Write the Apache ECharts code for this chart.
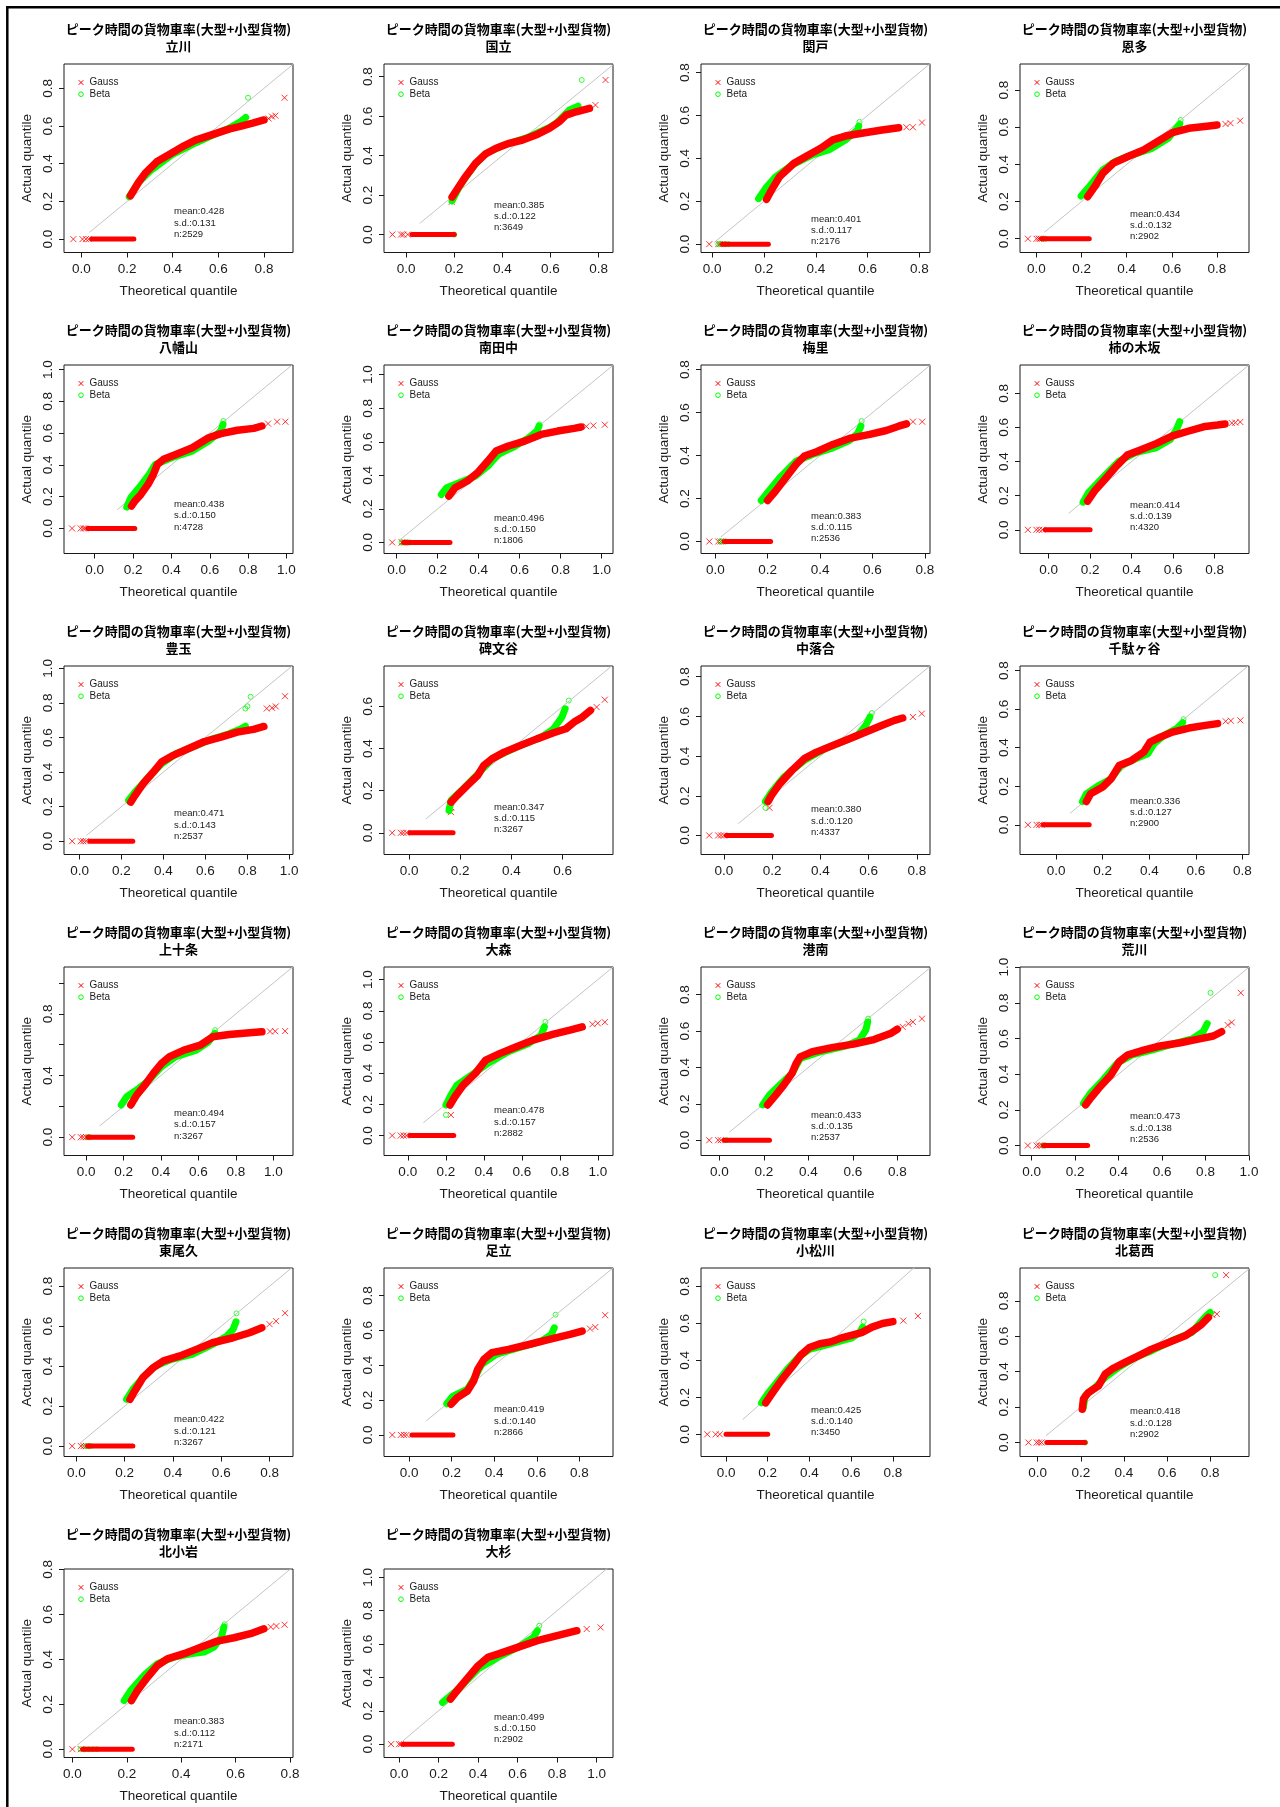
<!DOCTYPE html>
<html>
<head>
<meta charset="utf-8">
<script src="https://cdn.jsdelivr.net/npm/echarts@6.0.0/dist/echarts.min.js"></script>
<style>
  html, body { margin: 0; padding: 0; background: #fff; }
  #main { width: 1280px; height: 1807px; }
</style>
</head>
<body>
<div id="main"></div>
<script>
// 駅名と統計値
var stations = ['立川','国立','関戸','恩多','八幡山','南田中','梅里','柿の木坂','豊玉','碑文谷','中落合','千駄ヶ谷',
  '上十条','大森','港南','荒川','東尾久','足立','小松川','北葛西','北小岩','大杉'];
var means = [0.428,0.385,0.401,0.434,0.438,0.496,0.383,0.414,0.471,0.347,0.380,0.336,0.494,0.478,0.433,0.473,0.422,0.419,0.425,0.418,0.383,0.499];
var sds = [0.131,0.122,0.117,0.132,0.150,0.150,0.115,0.139,0.143,0.115,0.120,0.127,0.157,0.157,0.135,0.138,0.121,0.140,0.140,0.128,0.112,0.150];
var counts = [2529,3649,2176,2902,4728,1806,2536,4320,2537,3267,4337,2900,3267,2882,2537,2536,3267,2866,3450,2902,2171,2902];

// 目盛り
var ticks06 = [0, 0.2, 0.4, 0.6];
var ticks08 = [0, 0.2, 0.4, 0.6, 0.8];
var ticks10 = [0, 0.2, 0.4, 0.6, 0.8, 1.0];
var ticksSparse = [0, 0.4, 0.8];
var xTickLists = [ticks08,ticks08,ticks08,ticks08,ticks10,ticks10,ticks08,ticks08,ticks10,ticks06,ticks08,ticks08,
  ticks10,ticks10,ticks08,ticks10,ticks08,ticks08,ticks08,ticks08,ticks08,ticks10];
var yTickLists = [ticks08,ticks08,ticks08,ticks08,ticks10,ticks10,ticks08,ticks08,ticks10,ticks06,ticks08,ticks08,
  ticks10,ticks10,ticks08,ticks10,ticks08,ticks08,ticks08,ticks08,ticks08,ticks10];
var yLabelLists = [ticks08,ticks08,ticks08,ticks08,ticks10,ticks10,ticks08,ticks08,ticks10,ticks06,ticks08,ticks08,
  ticksSparse,ticks10,ticks08,ticks10,ticks08,ticks08,ticks08,ticks08,ticks08,ticks10];

// 軸範囲
var xLimits = [[-0.076,0.927],[-0.092,0.86],[-0.043,0.841],[-0.073,0.942],[-0.16,1.034],[-0.062,1.056],
  [-0.055,0.82],[-0.138,0.966],[-0.074,1.018],[-0.098,0.797],[-0.095,0.854],[-0.155,0.828],
  [-0.118,1.105],[-0.125,1.08],[-0.083,0.947],[-0.053,1.0],[-0.051,0.897],[-0.118,0.958],
  [-0.12,0.978],[-0.082,0.98],[-0.031,0.811],[-0.076,1.083]];
var yLimits = [[-0.071,0.929],[-0.091,0.864],[-0.039,0.84],[-0.074,0.94],[-0.158,1.029],[-0.066,1.058],
  [-0.056,0.822],[-0.139,0.966],[-0.077,1.014],[-0.103,0.792],[-0.096,0.854],[-0.154,0.824],
  [-0.119,1.104],[-0.128,1.081],[-0.084,0.952],[-0.056,1.001],[-0.052,0.891],[-0.124,0.958],
  [-0.12,0.9],[-0.079,0.985],[-0.037,0.802],[-0.08,1.05]];

// 対角線の始点
var diagStarts = [0.035,0.056,0.008,0.035,0.117,0.015,0.02,0.097,0.034,0.066,0.06,0.06,
  0.072,0.082,0.044,0.015,0.015,0.08,0.08,0.038,0.016,0.02];

// 0 に張り付いた区間
var zeroBands = [[0.045,0.23],[0.024,0.2],[0.04,0.217],[0.022,0.234],[-0.036,0.209],[0.034,0.26],
  [0.034,0.211],[-0.016,0.2],[0.049,0.254],[0.003,0.172],[0.01,0.197],[-0.055,0.142],
  [0.009,0.249],[0.011,0.242],[0.022,0.225],[0.055,0.258],[0.047,0.234],[0.013,0.206],
  [0.0,0.2],[0.042,0.22],[0.037,0.22],[0.02,0.27]];

// Gauss (赤 x) の密な帯
var gaussBands = [
  [[0.215,0.23],[0.25,0.3],[0.28,0.35],[0.33,0.41],[0.4,0.46],[0.45,0.495],[0.5,0.525],[0.55,0.545],[0.6,0.565],[0.65,0.585],[0.7,0.6],[0.75,0.615],[0.8,0.632]],
  [[0.191,0.19],[0.219,0.242],[0.247,0.293],[0.288,0.36],[0.33,0.408],[0.372,0.436],[0.428,0.462],[0.484,0.479],[0.539,0.504],[0.595,0.538],[0.637,0.572],[0.665,0.605],[0.707,0.622],[0.762,0.639]],
  [[0.21,0.209],[0.229,0.252],[0.26,0.314],[0.316,0.377],[0.372,0.416],[0.419,0.447],[0.466,0.486],[0.514,0.504],[0.577,0.517],[0.656,0.532],[0.72,0.543]],
  [[0.227,0.226],[0.258,0.28],[0.294,0.352],[0.339,0.405],[0.403,0.441],[0.475,0.477],[0.548,0.531],[0.602,0.571],[0.675,0.594],[0.765,0.607],[0.8,0.612]],
  [[0.192,0.141],[0.209,0.172],[0.241,0.214],[0.278,0.277],[0.306,0.34],[0.327,0.403],[0.359,0.435],[0.423,0.466],[0.509,0.508],[0.594,0.571],[0.658,0.597],[0.744,0.618],[0.829,0.63],[0.872,0.645]],
  [[0.255,0.276],[0.285,0.326],[0.345,0.366],[0.395,0.416],[0.445,0.485],[0.485,0.545],[0.545,0.575],[0.625,0.604],[0.705,0.644],[0.786,0.664],[0.866,0.68],[0.9,0.688]],
  [[0.199,0.191],[0.23,0.235],[0.269,0.297],[0.308,0.359],[0.34,0.398],[0.387,0.418],[0.449,0.452],[0.512,0.48],[0.59,0.499],[0.653,0.517],[0.7,0.537],[0.73,0.548]],
  [[0.188,0.168],[0.221,0.227],[0.271,0.295],[0.32,0.364],[0.379,0.438],[0.439,0.466],[0.518,0.505],[0.597,0.55],[0.676,0.579],[0.755,0.606],[0.814,0.614],[0.85,0.62]],
  [[0.244,0.226],[0.264,0.264],[0.303,0.332],[0.352,0.4],[0.391,0.458],[0.439,0.492],[0.518,0.535],[0.596,0.577],[0.674,0.602],[0.752,0.631],[0.83,0.647],[0.879,0.664]],
  [[0.164,0.146],[0.188,0.177],[0.228,0.225],[0.268,0.272],[0.292,0.32],[0.324,0.351],[0.372,0.383],[0.436,0.415],[0.5,0.446],[0.565,0.475],[0.613,0.494],[0.645,0.526],[0.677,0.549],[0.709,0.581]],
  [[0.183,0.171],[0.197,0.202],[0.231,0.26],[0.282,0.328],[0.333,0.387],[0.384,0.42],[0.452,0.454],[0.52,0.487],[0.588,0.521],[0.656,0.555],[0.707,0.58],[0.741,0.592]],
  [[0.13,0.121],[0.148,0.161],[0.2,0.196],[0.236,0.239],[0.271,0.308],[0.324,0.334],[0.376,0.377],[0.403,0.429],[0.447,0.455],[0.499,0.481],[0.57,0.502],[0.64,0.516],[0.693,0.525]],
  [[0.239,0.209],[0.271,0.274],[0.315,0.339],[0.359,0.414],[0.403,0.479],[0.446,0.522],[0.523,0.565],[0.61,0.597],[0.676,0.651],[0.764,0.666],[0.873,0.677],[0.939,0.684]],
  [[0.222,0.196],[0.248,0.249],[0.292,0.324],[0.356,0.399],[0.41,0.484],[0.486,0.527],[0.572,0.57],[0.659,0.612],[0.767,0.651],[0.853,0.676],[0.918,0.697]],
  [[0.216,0.194],[0.253,0.248],[0.289,0.303],[0.326,0.367],[0.345,0.422],[0.363,0.458],[0.418,0.486],[0.511,0.51],[0.603,0.528],[0.695,0.553],[0.769,0.586],[0.8,0.61]],
  [[0.249,0.228],[0.271,0.265],[0.309,0.321],[0.365,0.395],[0.403,0.47],[0.441,0.507],[0.516,0.535],[0.591,0.558],[0.685,0.576],[0.761,0.595],[0.836,0.614],[0.874,0.638]],
  [[0.222,0.234],[0.242,0.276],[0.276,0.343],[0.319,0.393],[0.361,0.426],[0.429,0.451],[0.497,0.484],[0.564,0.517],[0.649,0.542],[0.717,0.567],[0.768,0.592]],
  [[0.197,0.176],[0.226,0.214],[0.274,0.252],[0.303,0.309],[0.322,0.376],[0.351,0.433],[0.389,0.472],[0.467,0.491],[0.563,0.519],[0.659,0.548],[0.756,0.577],[0.813,0.596]],
  [[0.19,0.17],[0.22,0.22],[0.27,0.3],[0.32,0.37],[0.36,0.43],[0.4,0.47],[0.45,0.49],[0.5,0.5],[0.55,0.52],[0.6,0.535],[0.65,0.55],[0.7,0.58],[0.75,0.6],[0.8,0.61]],
  [[0.207,0.188],[0.212,0.245],[0.235,0.282],[0.282,0.32],[0.313,0.386],[0.344,0.414],[0.405,0.452],[0.467,0.489],[0.529,0.527],[0.607,0.565],[0.684,0.602],[0.73,0.64],[0.761,0.668],[0.792,0.706]],
  [[0.217,0.216],[0.239,0.261],[0.276,0.32],[0.312,0.372],[0.349,0.402],[0.41,0.425],[0.472,0.454],[0.533,0.481],[0.594,0.496],[0.655,0.514],[0.704,0.536]],
  [[0.26,0.27],[0.3,0.33],[0.35,0.4],[0.4,0.47],[0.45,0.52],[0.5,0.54],[0.6,0.58],[0.7,0.62],[0.8,0.65],[0.9,0.68]]
];
// Gauss の散らばった点
var gaussMarks = [
  [[-0.035,0],[0.005,0],[0.02,0],[0.032,0],[0.82,0.64],[0.835,0.65],[0.85,0.655],[0.89,0.75]],
  [[-0.057,0],[-0.021,0],[-0.012,0],[0.007,0],[0.19,0.166],[0.787,0.656],[0.829,0.783]],
  [[-0.011,0],[0.024,0],[0.03,0],[0.04,0],[0.75,0.545],[0.775,0.545],[0.81,0.567]],
  [[-0.038,0],[0,0],[0.01,0],[0.018,0],[0.838,0.617],[0.86,0.622],[0.903,0.635]],
  [[-0.118,0],[-0.073,0],[-0.06,0],[-0.05,0],[0.904,0.66],[0.951,0.672],[0.994,0.672]],
  [[-0.022,0],[0.024,0],[0.03,0],[0.04,0],[0.926,0.692],[0.96,0.697],[1.016,0.702]],
  [[-0.023,0],[0.011,0],[0.02,0],[0.028,0],[0.755,0.558],[0.79,0.558]],
  [[-0.1,0],[-0.059,0],[-0.045,0],[-0.03,0],[0.883,0.626],[0.9,0.628],[0.924,0.632]],
  [[-0.035,0],[0.006,0],[0.018,0],[0.03,0],[0.893,0.768],[0.918,0.772],[0.936,0.78],[0.98,0.839]],
  [[-0.066,0],[-0.032,0],[-0.022,0],[-0.01,0],[0.164,0.098],[0.164,0.12],[0.733,0.597],[0.765,0.632]],
  [[-0.061,0],[-0.024,0],[-0.012,0],[0,0],[0.189,0.139],[0.783,0.597],[0.82,0.614]],
  [[-0.121,0],[-0.084,0],[-0.072,0],[-0.062,0],[0.728,0.537],[0.75,0.54],[0.791,0.542]],
  [[-0.074,0],[-0.028,0],[-0.015,0],[0,0],[0.982,0.686],[1.01,0.687],[1.063,0.688]],
  [[-0.082,0],[-0.037,0],[-0.022,0],[-0.008,0],[0.227,0.132],[0.972,0.714],[1.0,0.72],[1.037,0.727]],
  [[-0.046,0],[-0.006,0],[0.006,0],[0.824,0.623],[0.85,0.64],[0.87,0.65],[0.911,0.668]],
  [[-0.017,0],[0.023,0],[0.035,0],[0.048,0],[0.902,0.675],[0.921,0.69],[0.962,0.856]],
  [[-0.017,0],[0.019,0],[0.03,0],[0.04,0],[0.8,0.61],[0.827,0.625],[0.864,0.665]],
  [[-0.079,0],[-0.039,0],[-0.025,0],[-0.012,0],[0.85,0.61],[0.875,0.619],[0.921,0.687]],
  [[-0.09,0],[-0.05,0],[-0.03,0],[0.85,0.615],[0.92,0.64]],
  [[-0.043,0],[-0.005,0],[0.006,0],[0.018,0],[0.81,0.72],[0.831,0.725],[0.874,0.945]],
  [[0,0],[0.031,0],[0.729,0.544],[0.75,0.548],[0.78,0.554]],
  [[-0.04,0],[0,0],[0.01,0],[0.95,0.69],[1.02,0.7]]
];
// Beta (緑 o) の密な帯
var betaBands = [
  [[0.21,0.225],[0.25,0.3],[0.3,0.36],[0.4,0.45],[0.5,0.51],[0.6,0.565],[0.65,0.59],[0.7,0.625],[0.72,0.645]],
  [[0.191,0.17],[0.22,0.24],[0.25,0.295],[0.29,0.36],[0.33,0.41],[0.4,0.45],[0.5,0.49],[0.6,0.545],[0.623,0.563],[0.679,0.631],[0.715,0.65]],
  [[0.179,0.212],[0.206,0.26],[0.245,0.314],[0.308,0.369],[0.387,0.416],[0.45,0.439],[0.514,0.486],[0.561,0.532],[0.566,0.55]],
  [[0.198,0.23],[0.24,0.289],[0.294,0.37],[0.348,0.415],[0.421,0.45],[0.512,0.486],[0.584,0.54],[0.62,0.594],[0.635,0.617]],
  [[0.167,0.134],[0.188,0.193],[0.231,0.256],[0.284,0.34],[0.316,0.403],[0.402,0.445],[0.509,0.487],[0.594,0.55],[0.658,0.613],[0.669,0.655]],
  [[0.218,0.286],[0.244,0.326],[0.305,0.356],[0.385,0.396],[0.445,0.455],[0.495,0.525],[0.565,0.565],[0.645,0.624],[0.685,0.664],[0.695,0.694]],
  [[0.175,0.191],[0.199,0.227],[0.246,0.297],[0.308,0.374],[0.371,0.405],[0.449,0.436],[0.512,0.47],[0.543,0.502],[0.556,0.537]],
  [[0.166,0.162],[0.192,0.217],[0.261,0.305],[0.34,0.403],[0.419,0.452],[0.518,0.481],[0.587,0.53],[0.617,0.589],[0.632,0.634]],
  [[0.234,0.236],[0.264,0.284],[0.322,0.361],[0.391,0.448],[0.459,0.506],[0.557,0.554],[0.635,0.593],[0.713,0.622],[0.771,0.651],[0.791,0.666]],
  [[0.156,0.106],[0.164,0.154],[0.212,0.209],[0.276,0.288],[0.324,0.351],[0.42,0.407],[0.517,0.454],[0.565,0.494],[0.597,0.549],[0.61,0.589]],
  [[0.172,0.171],[0.197,0.218],[0.248,0.294],[0.333,0.378],[0.418,0.437],[0.503,0.479],[0.554,0.504],[0.588,0.555],[0.605,0.597]],
  [[0.113,0.121],[0.13,0.161],[0.183,0.204],[0.236,0.239],[0.279,0.308],[0.341,0.343],[0.394,0.369],[0.42,0.421],[0.464,0.464],[0.517,0.499],[0.543,0.53]],
  [[0.188,0.209],[0.217,0.263],[0.282,0.317],[0.337,0.371],[0.403,0.457],[0.479,0.522],[0.589,0.565],[0.654,0.619],[0.687,0.673]],
  [[0.201,0.196],[0.227,0.26],[0.259,0.324],[0.335,0.388],[0.421,0.463],[0.529,0.537],[0.637,0.591],[0.702,0.644],[0.719,0.697]],
  [[0.194,0.194],[0.225,0.248],[0.271,0.303],[0.326,0.367],[0.363,0.449],[0.455,0.486],[0.566,0.517],[0.63,0.551],[0.658,0.605],[0.667,0.65]],
  [[0.239,0.237],[0.271,0.293],[0.328,0.367],[0.394,0.461],[0.46,0.507],[0.554,0.535],[0.648,0.569],[0.742,0.6],[0.789,0.638],[0.808,0.684]],
  [[0.208,0.234],[0.234,0.284],[0.276,0.343],[0.327,0.401],[0.395,0.434],[0.48,0.459],[0.564,0.509],[0.624,0.551],[0.649,0.584],[0.661,0.622]],
  [[0.177,0.179],[0.206,0.223],[0.274,0.262],[0.312,0.338],[0.341,0.405],[0.409,0.462],[0.524,0.504],[0.621,0.538],[0.669,0.577],[0.682,0.615]],
  [[0.17,0.17],[0.2,0.22],[0.25,0.29],[0.3,0.36],[0.35,0.42],[0.4,0.46],[0.5,0.49],[0.6,0.52],[0.64,0.55],[0.655,0.58]],
  [[0.212,0.198],[0.22,0.264],[0.266,0.311],[0.313,0.367],[0.375,0.424],[0.452,0.48],[0.529,0.518],[0.622,0.574],[0.715,0.621],[0.754,0.678],[0.785,0.719],[0.8,0.734]],
  [[0.19,0.216],[0.214,0.261],[0.263,0.328],[0.312,0.38],[0.374,0.41],[0.435,0.425],[0.484,0.432],[0.52,0.454],[0.548,0.499],[0.557,0.544]],
  [[0.22,0.25],[0.3,0.33],[0.4,0.45],[0.5,0.52],[0.6,0.58],[0.68,0.64],[0.7,0.68]]
];
// Beta の散らばった点
var betaMarks = [
  [[0.73,0.75]],
  [[0.2,0],[0.73,0.783]],
  [[0.024,0],[0.035,0],[0.05,0],[0.063,0],[0.569,0.57]],
  [[0.03,0],[0.04,0],[0.639,0.639]],
  [[0.671,0.676]],
  [[0.024,0],[0.035,0],[0.05,0],[0.065,0],[0.697,0.704]],
  [[0.02,0],[0.03,0],[0.559,0.561]],
  [],
  [[0.791,0.768],[0.801,0.781],[0.816,0.836]],
  [[0.624,0.628]],
  [[0.172,0.139],[0.613,0.617]],
  [[0.547,0.548]],
  [[0.01,0],[0.02,0],[0.689,0.694]],
  [[0.201,0.132],[0.724,0.729]],
  [[0.03,0],[0.669,0.668]],
  [[0.055,0],[0.062,0],[0.823,0.856]],
  [[0.04,0],[0.05,0],[0.06,0],[0.663,0.664]],
  [[0.688,0.69]],
  [[0.66,0.61]],
  [[0.22,0],[0.823,0.945]],
  [[0.03,0],[0.045,0],[0.06,0],[0.075,0],[0.09,0],[0.56,0.556]],
  [[0.71,0.71]]
];

// レイアウト
var colLeft = [64, 384, 701, 1020];
var rowTop = [64, 365, 666, 967, 1268, 1569];
var boxW = 229, boxH = 188.5;
var statTop = [147.7,141,155,150,139.3,153,151,140,147.7,141,143.7,135,146.3,143.7,148,149.7,151.7,141.7,142,143.7,152.7,148];

var mainTitle = 'ピーク時間の貨物車率(大型+小型貨物)';
var latin = '"Liberation Sans", Arial, sans-serif';
var cjk = '"Noto Sans CJK JP", sans-serif';
var ink = '#1a1a1a';
var crossPath = 'path://M0,0L10,10M10,0L0,10';

var grids = [], xAxes = [], yAxes = [], series = [], graphics = [];

// 外枠（上と左だけ見えている）
graphics.push({type: 'line', shape: {x1: 6, y1: 7.3, x2: 1280, y2: 7.3}, style: {stroke: '#000', lineWidth: 2.5}});
graphics.push({type: 'line', shape: {x1: 7.3, y1: 6, x2: 7.3, y2: 1807}, style: {stroke: '#000', lineWidth: 2.5}});

stations.forEach(function (name, i) {
  var left = colLeft[i % 4];
  var top = rowTop[Math.floor(i / 4)];
  grids.push({left: left, top: top, width: boxW, height: boxH, show: true,
    borderColor: ink, borderWidth: 1, backgroundColor: 'transparent'});
  xAxes.push({
    gridIndex: i, type: 'value', min: xLimits[i][0], max: xLimits[i][1], position: 'bottom',
    axisLine: {show: false, onZero: false}, splitLine: {show: false},
    axisTick: {show: true, customValues: xTickLists[i], length: 5, lineStyle: {color: ink}},
    axisLabel: {customValues: xTickLists[i], formatter: function (v) { return v.toFixed(1); },
      fontSize: 13.5, fontFamily: latin, color: ink, margin: 10},
    name: 'Theoretical quantile', nameLocation: 'middle', nameGap: 32,
    nameTextStyle: {fontSize: 13.5, fontFamily: latin, color: ink}
  });
  yAxes.push({
    gridIndex: i, type: 'value', min: yLimits[i][0], max: yLimits[i][1], position: 'left',
    axisLine: {show: false, onZero: false}, splitLine: {show: false},
    axisTick: {show: true, customValues: yTickLists[i], length: 5, lineStyle: {color: ink}},
    axisLabel: {customValues: yLabelLists[i], formatter: function (v) { return v.toFixed(1); },
      rotate: 90, fontSize: 13.5, fontFamily: latin, color: ink, margin: 9},
    name: 'Actual quantile', nameLocation: 'middle', nameGap: 30,
    nameTextStyle: {fontSize: 13.5, fontFamily: latin, color: ink}
  });

  var d = diagStarts[i];
  series.push({type: 'line', xAxisIndex: i, yAxisIndex: i, data: [[d, d], [1.5, 1.5]],
    symbol: 'none', clip: true, lineStyle: {color: '#c4c4c4', width: 1}, silent: true});
  series.push({type: 'line', xAxisIndex: i, yAxisIndex: i, data: betaBands[i], symbol: 'none',
    lineStyle: {color: '#00ff00', width: 7, cap: 'round', join: 'round'}, silent: true});
  series.push({type: 'line', xAxisIndex: i, yAxisIndex: i,
    data: [[zeroBands[i][0], 0], [zeroBands[i][1], 0]], symbol: 'none',
    lineStyle: {color: '#ff0000', width: 5, cap: 'round'}, silent: true});
  series.push({type: 'line', xAxisIndex: i, yAxisIndex: i, data: gaussBands[i], symbol: 'none',
    lineStyle: {color: '#ff0000', width: 7.5, cap: 'round', join: 'round'}, silent: true});
  series.push({type: 'scatter', xAxisIndex: i, yAxisIndex: i, data: gaussMarks[i],
    symbol: crossPath, symbolSize: 6,
    itemStyle: {color: 'rgba(0,0,0,0)', borderColor: '#ff0000', borderWidth: 1}, silent: true});
  series.push({type: 'scatter', xAxisIndex: i, yAxisIndex: i, data: betaMarks[i],
    symbol: 'circle', symbolSize: 5,
    itemStyle: {color: 'rgba(0,0,0,0)', borderColor: '#00ff00', borderWidth: 1}, silent: true});

  // タイトル
  graphics.push({type: 'text', x: left + boxW / 2, y: top - 26.5,
    style: {text: mainTitle + '\n' + name, font: 'bold 13px ' + cjk, fill: '#000',
      textAlign: 'center', textVerticalAlign: 'middle', align: 'center', verticalAlign: 'middle', lineHeight: 17}});
  // 凡例
  var lx = left + 17, ly = top + 18.5;
  graphics.push({type: 'line', shape: {x1: lx - 2.3, y1: ly - 2.3, x2: lx + 2.3, y2: ly + 2.3}, style: {stroke: '#ff0000', lineWidth: 1}});
  graphics.push({type: 'line', shape: {x1: lx - 2.3, y1: ly + 2.3, x2: lx + 2.3, y2: ly - 2.3}, style: {stroke: '#ff0000', lineWidth: 1}});
  graphics.push({type: 'circle', shape: {cx: lx, cy: ly + 11.7, r: 2.3}, style: {fill: 'none', stroke: '#00ff00', lineWidth: 1}});
  graphics.push({type: 'text', x: left + 25.5, y: ly,
    style: {text: 'Gauss', font: '10px ' + latin, fill: ink, textVerticalAlign: 'middle', verticalAlign: 'middle'}});
  graphics.push({type: 'text', x: left + 25.5, y: ly + 11.7,
    style: {text: 'Beta', font: '10px ' + latin, fill: ink, textVerticalAlign: 'middle', verticalAlign: 'middle'}});
  // 統計値
  graphics.push({type: 'text', x: left + 110, y: top + statTop[i] - 5.7,
    style: {text: 'mean:' + means[i].toFixed(3) + '\ns.d.:' + sds[i].toFixed(3) + '\nn:' + counts[i],
      font: '9.5px ' + latin, fill: ink, lineHeight: 11.4, textVerticalAlign: 'top', verticalAlign: 'top'}});
});

var chart = echarts.init(document.getElementById('main'), null, {renderer: 'canvas'});
chart.setOption({
  animation: false,
  backgroundColor: '#fff',
  grid: grids,
  xAxis: xAxes,
  yAxis: yAxes,
  series: series,
  graphic: {elements: graphics}
});
</script>
</body>
</html>
